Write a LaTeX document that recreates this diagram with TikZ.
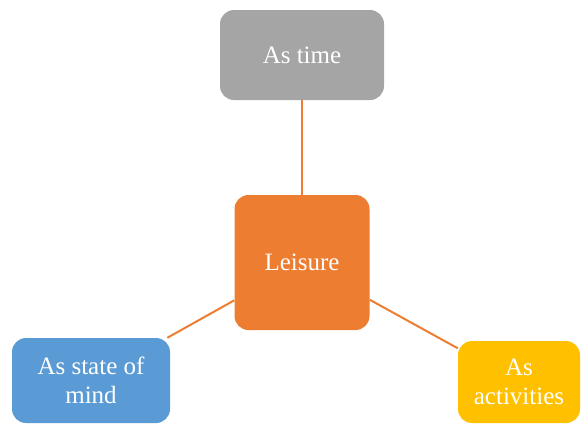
\documentclass[tikz,border=0pt]{standalone}
\usepackage{fontspec}
\setmainfont{Liberation Serif}
\definecolor{timegray}{HTML}{A5A5A5}
\definecolor{leisureorange}{HTML}{ED7D31}
\definecolor{mindblue}{HTML}{5B9BD5}
\definecolor{activitygold}{HTML}{FFC000}
\begin{document}
\begin{tikzpicture}[x=1pt,y=-1pt,
    box/.style={rounded corners=14pt, text=white, align=center, inner sep=0pt,
      font=\fontsize{25}{29}\selectfont},
    link/.style={draw=leisureorange, line width=2pt}]
    \useasboundingbox (0,0) rectangle (581,424);
    % Nodes
    \node[box, fill=timegray, minimum width=164pt, minimum height=90pt] (time) at (302,55) {As time};
    \node[box, fill=leisureorange, minimum width=135pt, minimum height=135pt] (leisure) at (302,262.5) {Leisure};
    \node[box, fill=mindblue, minimum width=158pt, minimum height=85pt] (mind) at (91,380.5) {As state of\\mind};
    \node[box, fill=activitygold, minimum width=122pt, minimum height=82pt] (activities) at (519,382) {As\\activities};
    % Connectors
    \draw[link] (leisure) -- (time);
    \draw[link] (leisure) -- (mind);
    \draw[link] (leisure) -- (activities);
  \end{tikzpicture}
\end{document}
